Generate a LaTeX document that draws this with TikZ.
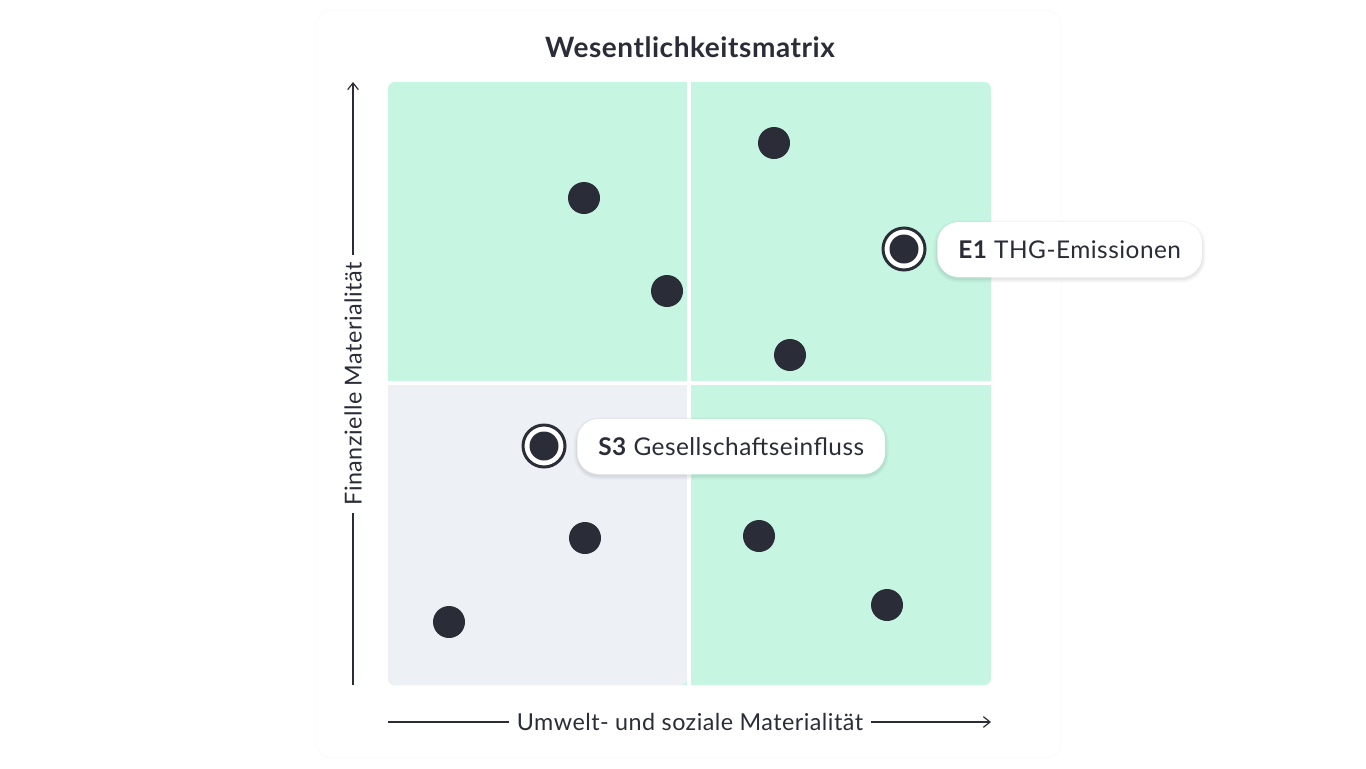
\documentclass[tikz,border=0pt]{standalone}
\usepackage{fontspec}
\setmainfont{Lato}[LetterSpace=2]
\usetikzlibrary{arrows.meta}
\definecolor{gr}{HTML}{C6F6E2}
\definecolor{gy}{HTML}{EDF1F5}
\definecolor{dk}{HTML}{2A2D37}
\begin{document}
\begin{tikzpicture}[x=0.75pt,y=-0.75pt,
 dot/.style={circle,fill=dk,minimum size=32*0.75pt,inner sep=0},
 hidot/.style={circle,fill=white,draw=dk,line width=3*0.75pt,minimum size=42*0.75pt,inner sep=0,
   path picture={\fill[dk] (path picture bounding box.center) circle (14.5*0.75pt);}},
 pill/.style={rounded corners=16pt,fill=white,text=dk,font=\fontsize{18.3}{22}\selectfont,minimum height=55*0.75pt,inner xsep=21*0.75pt,
   preaction={draw=black,draw opacity=0.04,line width=5pt,transform canvas={yshift=-1.5pt}},
   preaction={draw=black,draw opacity=0.05,line width=2pt,transform canvas={yshift=-1.5pt}}},
 axl/.style={font=\fontsize{17.5}{21}\selectfont,text=dk,fill=white,inner xsep=6pt}]
\useasboundingbox (0,0) rectangle (1366,768);
\fill[white] (0,0) rectangle (1366,768);
\node[draw=gray!4,fill=white,rounded corners=12pt,minimum width=746*0.75pt,minimum height=748*0.75pt] (card) at (689,384) {};
\node[font=\bfseries\fontsize{21}{25}\selectfont,text=dk] (title) at (690,47) {Wesentlichkeitsmatrix};
\fill[gr,rounded corners=5pt] (388,82) rectangle (991,685);
\fill[gy,rounded corners=5pt] (388,385) -- (388,685) -- (687,685) -- (687,385) -- cycle;
\fill[gy] (388,385) rectangle (687,680);
\fill[white] (687,82) rectangle (691,685);
\fill[white] (388,381) rectangle (991,385);
% axes
\coordinate (yb) at (353,685); \coordinate (yt) at (353,82);
\draw[-{Straight Barb[length=5pt,width=8pt]},dk,line width=0.9pt] (yb) -- (yt);
\node[axl,rotate=90] (ylab) at (353,384) {Finanzielle Materialität};
\coordinate (xl) at (388,722); \coordinate (xr) at (991,722);
\draw[-{Straight Barb[length=5pt,width=8pt]},dk,line width=0.9pt] (xl) -- (xr);
\node[axl] (xlab) at (690,722) {Umwelt- und soziale Materialität};
% dots
\node[dot] (d1) at (584,198) {};
\node[dot] (d2) at (667,291) {};
\node[dot] (d3) at (774,143) {};
\node[dot] (d4) at (790,355) {};
\node[dot] (d5) at (585,538) {};
\node[dot] (d6) at (449,622) {};
\node[dot] (d7) at (759,536) {};
\node[dot] (d8) at (887,605) {};
\node[hidot] (e1) at (904,249) {};
\node[hidot] (s3) at (544,446) {};
\node[pill,anchor=west] (le1) at (937,249.5) {\textbf{E1} THG-Emissionen};
\node[pill,anchor=west] (ls3) at (577,446.5) {\textbf{S3} Gesellschaftseinfluss};
\end{tikzpicture}
\end{document}
